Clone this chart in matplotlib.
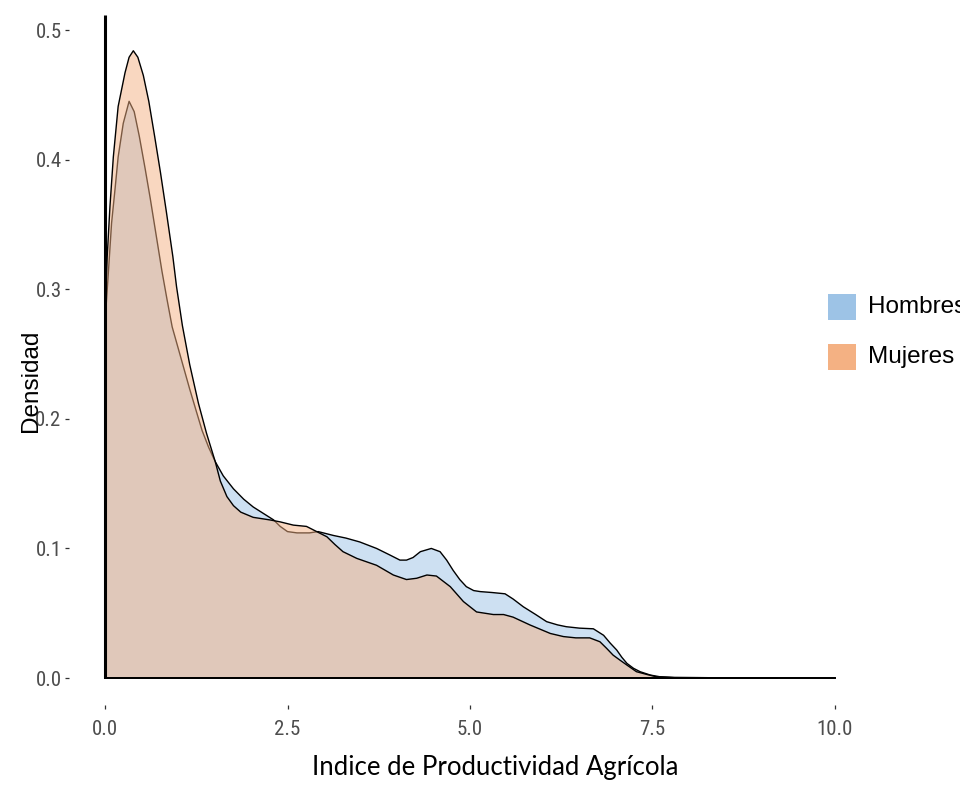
import matplotlib
matplotlib.use("Agg")
import matplotlib.pyplot as plt
from matplotlib import font_manager
from matplotlib.patches import Rectangle

# ---------------- data ----------------
series_names = ["Hombres", "Mujeres"]

hombres_x = [0.00, 0.014, 0.045, 0.09, 0.137, 0.18, 0.25, 0.33, 0.40, 0.47, 0.55, 0.62,
             0.70, 0.78, 0.85, 0.92, 1.00, 1.07, 1.16, 1.25, 1.33, 1.42, 1.51, 1.62,
             1.76, 1.90, 2.03, 2.17, 2.31, 2.40, 2.50, 2.63, 2.80, 2.92, 3.13, 3.30,
             3.49, 3.72, 3.90, 4.04, 4.13, 4.22, 4.32, 4.47, 4.59, 4.68, 4.77, 4.86,
             4.95, 5.05, 5.14, 5.30, 5.48, 5.59, 5.73, 5.90, 6.05, 6.20, 6.32, 6.50,
             6.69, 6.83, 6.92, 7.01, 7.08, 7.15, 7.24, 7.33, 7.47, 7.60, 7.80, 8.50,
             9.20, 10.0]
hombres_y = [0.280, 0.286, 0.312, 0.351, 0.377, 0.402, 0.428, 0.445, 0.437, 0.418, 0.393, 0.370,
             0.342, 0.314, 0.292, 0.271, 0.255, 0.241, 0.223, 0.206, 0.191, 0.178, 0.167, 0.156,
             0.146, 0.138, 0.132, 0.127, 0.122, 0.117, 0.113, 0.112, 0.112, 0.113, 0.110, 0.108,
             0.105, 0.100, 0.095, 0.091, 0.091, 0.093, 0.0975, 0.100, 0.0975, 0.091, 0.083, 0.076,
             0.0705, 0.0675, 0.0667, 0.066, 0.065, 0.061, 0.055, 0.049, 0.0435, 0.041, 0.0396, 0.0385,
             0.038, 0.033, 0.027, 0.0216, 0.016, 0.0113, 0.0075, 0.0049, 0.0023, 0.0010, 0.0004, 0.0002,
             0.0001, 0.0]

mujeres_x = [0.00, 0.03, 0.068, 0.114, 0.18, 0.274, 0.33, 0.388, 0.45, 0.525, 0.60, 0.68,
             0.76, 0.84, 0.93, 0.98, 1.06, 1.16, 1.28, 1.39, 1.51, 1.58, 1.67,
             1.76, 1.86, 2.03, 2.26, 2.40, 2.58, 2.76, 2.90, 3.04, 3.15, 3.26, 3.45,
             3.72, 3.95, 4.13, 4.27, 4.41, 4.54, 4.73, 4.91, 5.09, 5.32, 5.46, 5.59,
             5.82, 6.10, 6.28, 6.45, 6.64, 6.78, 6.87, 6.96, 7.05, 7.15, 7.28, 7.42,
             7.55, 7.80, 8.50, 9.20]
mujeres_y = [0.280, 0.325, 0.364, 0.402, 0.441, 0.467, 0.479, 0.484, 0.479, 0.465, 0.445, 0.418,
             0.390, 0.360, 0.325, 0.302, 0.272, 0.242, 0.212, 0.189, 0.167, 0.152, 0.140,
             0.133, 0.128, 0.124, 0.122, 0.1205, 0.118, 0.117, 0.113, 0.109, 0.103, 0.0975, 0.0923,
             0.087, 0.0795, 0.076, 0.077, 0.0795, 0.0787, 0.0705, 0.059, 0.051, 0.049, 0.049, 0.047,
             0.041, 0.0344, 0.032, 0.031, 0.031, 0.028, 0.023, 0.0177, 0.014, 0.010, 0.0049, 0.0028,
             0.0010, 0.0004, 0.0002, 0.0]

x_ticks = [0.0, 2.5, 5.0, 7.5, 10.0]
x_tick_labels = ["0.0", "2.5", "5.0", "7.5", "10.0"]
y_ticks = [0.0, 0.1, 0.2, 0.3, 0.4, 0.5]
y_tick_labels = ["0.0", "0.1", "0.2", "0.3", "0.4", "0.5"]

x_title = "Indice de Productividad Agrícola"
y_title = "Densidad"

# ---------------- style ----------------
colors = {"Hombres": "#9DC3E6", "Mujeres": "#F4B183"}

available = {f.name for f in font_manager.fontManager.ttflist}
def pick(*names):
    for n in names:
        if n in available:
            return n
    return "DejaVu Sans"

tick_font = pick("Liberation Sans Narrow", "Roboto Condensed", "Open Sans Condensed", "Liberation Sans")
label_font = pick("Liberation Sans", "Arial", "DejaVu Sans")
xtitle_font = pick("Lato", "Open Sans", "Liberation Sans")

fig = plt.figure(figsize=(9.6, 7.91), dpi=100)
W, H = 960, 791
ax = fig.add_axes([68.5 / W, 1 - 705 / H, (871.5 - 68.5) / W, (705 - 15) / H])

ax.set_xlim(-0.5, 10.5)
ax.set_ylim(-0.0208, 0.5116)

data = {"Hombres": (hombres_x, hombres_y), "Mujeres": (mujeres_x, mujeres_y)}
for i, name in enumerate(series_names):
    xs, ys = data[name]
    z = 2 + 2 * i
    ax.fill_between(xs, 0, ys, facecolor=colors[name], alpha=0.5, linewidth=0, zorder=z)
    ax.plot(xs, ys, color="black", lw=1.0, zorder=z + 0.5 if i == 0 else 10,
            solid_joinstyle="round")
    ax.plot([xs[0], xs[-1]], [0, 0], color="black", lw=1.4, zorder=10)

ax.vlines(0, 0, 0.5116, color="black", lw=2.2, zorder=11)

for s in ax.spines.values():
    s.set_visible(False)

ax.set_xticks(x_ticks)
ax.set_xticklabels(x_tick_labels)
ax.set_yticks(y_ticks)
ax.set_yticklabels(y_tick_labels)
ax.tick_params(axis="both", colors="#333333", length=3, width=0.9, labelcolor="#4D4D4D",
               labelsize=15, pad=2)
for lab in ax.get_xticklabels() + ax.get_yticklabels():
    lab.set_fontfamily(tick_font)
ax.tick_params(axis="x", pad=8)

fig.text(495 / W, 1 - 768 / H, x_title, ha="center", va="center",
         fontsize=18.5, family=xtitle_font, color="black")
fig.text(31 / W, 1 - 381 / H, y_title, ha="center", va="center", rotation=90,
         fontsize=17.5, family=label_font, color="black")

# legend
leg_items = [("Hombres", 294, 320), ("Mujeres", 344, 370)]
for name, top, bot in leg_items:
    fig.patches.append(Rectangle((828 / W, 1 - bot / H), 28 / W, (bot - top) / H,
                                 transform=fig.transFigure, facecolor=colors[name],
                                 edgecolor="none"))
    fig.text(868 / W, 1 - ((top + bot) / 2) / H, name, ha="left", va="center",
             fontsize=17.5, family=label_font, color="black")

fig.savefig("out.png", dpi=100)
